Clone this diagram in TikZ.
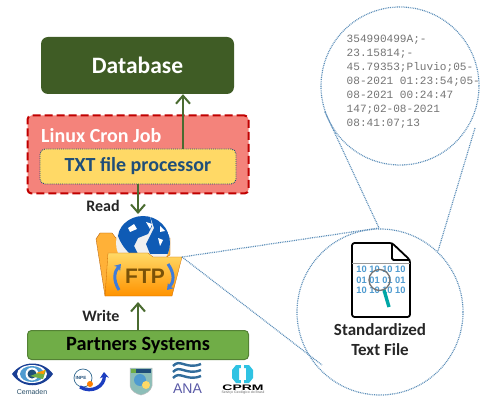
\documentclass[tikz,border=0pt]{standalone}
\usepackage{fontspec}
\setmainfont{Carlito}
\newfontfamily\monof{Liberation Mono}
\newfontfamily\sansf{Liberation Sans}
\usetikzlibrary{arrows.meta,calc}
\definecolor{dbgreen}{HTML}{3F5C25}
\definecolor{pgreen}{HTML}{70AD47}
\definecolor{cronred}{HTML}{F4837B}
\definecolor{dashred}{HTML}{C00000}
\definecolor{yel}{HTML}{FFD966}
\definecolor{navy}{HTML}{1F4E79}
\definecolor{dotblue}{HTML}{5B8DB8}
\definecolor{arrowg}{HTML}{4A6B30}
\definecolor{lightblue}{HTML}{4F9BD0}
\definecolor{globeb}{HTML}{0F5BB5}
\definecolor{ftpb}{HTML}{7A5208}
\tikzset{
 x=1pt,y=-1pt,
 dbbox/.style={fill=dbgreen,rounded corners=7pt,text=white,font=\bfseries\fontsize{23.5}{26}\selectfont,inner sep=0pt},
 cronbox/.style={fill=cronred,draw=dashred,line width=2pt,dash pattern=on 8pt off 4pt,rounded corners=4pt},
 procbox/.style={fill=yel,draw=navy,line width=.9pt,densely dotted,rounded corners=5pt,text=navy,font=\bfseries\fontsize{20}{22}\selectfont,inner sep=0pt},
 partbox/.style={fill=pgreen,draw=pgreen!75!black,line width=1pt,rounded corners=4pt,text=black,font=\bfseries\fontsize{20.3}{22}\selectfont,inner sep=0pt},
 flow/.style={draw=arrowg,line width=2.2pt,-{Straight Barb[length=8pt,width=14pt,line width=2pt]}},
 zoomline/.style={draw=dotblue,line width=1.2pt,dash pattern=on .9pt off .9pt},
 lab/.style={font=\bfseries\fontsize{16}{18}\selectfont,text=black!85,inner sep=0pt},
}
\begin{document}
\begin{tikzpicture}
\useasboundingbox (0,0) rectangle (482,398);
% boxes
\node[dbbox,minimum width=193pt,minimum height=57pt] (db) at (137.5,65.5) {Database};
\node[cronbox,minimum width=221pt,minimum height=78pt] (cron) at (138,154.5) {};
\node[font=\bfseries\fontsize{20}{22}\selectfont,text=white,inner sep=0pt,anchor=west] (cronlab) at (41,136) {Linux Cron Job};
\node[procbox,minimum width=196pt,minimum height=35pt] (proc) at (138,166.5) {TXT file processor};
\node[partbox,minimum width=221pt,minimum height=29pt] (part) at (138,345) {Partners Systems};
% folder
\coordinate (ftptop) at (138,214);
\coordinate (ftpbot) at (138,302);
\coordinate (ftpc) at (182,257);
\path[fill=yel!55!orange,draw=orange!70!black,line width=.3pt] (96,239) -- (100,233) -- (112,233) -- (116,238) -- (170,238) -- (170,255) -- (105,296) -- cycle;
\fill[black!6] (143,243) circle (27);
\begin{scope}
\clip (143,243) circle (27);
\fill[globeb] (118,236) .. controls (120,222) and (134,214) .. (150,216) -- (152,226) -- (148,234) -- (138,238) -- (134,246) -- (138,254) -- (130,254) .. controls (124,248) and (120,242) .. (118,236) -- cycle;
\fill[globeb] (150,216) .. controls (164,218) and (172,234) .. (172,254) -- (150,254) -- (146,244) -- (150,236) -- (154,228) -- cycle;
\fill[white] (128,228) -- (134,224) -- (137,229) -- (130,232) -- cycle;
\fill[white] (146,222) -- (152,224) -- (150,229) -- cycle;
\fill[white] (158,238) -- (163,240) -- (160,246) -- cycle;
\fill[white] (160,226) -- (165,231) -- (160,232) -- cycle;
\end{scope}
\path[top color=yel,bottom color=orange!85!yellow,draw=orange!80!black,line width=.3pt] (108,253) -- (148,253) -- (153,257) -- (182,257) -- (172,296) -- (105,296) -- cycle;
\node[font=\sansf\bfseries\fontsize{21}{22}\selectfont,text=ftpb,inner sep=0pt] (ftp) at (145,276) {FTP};
\draw[lightblue!80!blue,line width=3pt,-{Stealth[length=6pt,width=8pt]}] (119,290) .. controls (113,280) and (114,272) .. (121,264);
\draw[lightblue!80!blue,line width=3pt,-{Stealth[length=6pt,width=8pt]}] (168,264) .. controls (175,274) and (174,282) .. (167,290);
% flows
\coordinate (upstart) at (183,149);
\draw[flow] (upstart) -- (upstart|-db.south);
\draw[flow] (proc.south) -- (ftptop);
\draw[flow] (part.north) -- (ftpbot);
\node[lab] (read) at (103,206) {Read};
\node[lab] (write) at (101,316) {Write};
% circles
\node[circle,zoomline,minimum size=158pt,inner sep=0pt] (top) at (400,86) {};
\node[circle,zoomline,minimum size=166pt,inner sep=0pt] (bot) at (380,312) {};
\coordinate (ta) at (325,112);
\coordinate (tb) at (475,128);
\coordinate (ba) at (379,228);
\coordinate (bb) at (438,251);
\coordinate (bc) at (322,365);
\draw[zoomline] (ftpc) -- (ba);
\draw[zoomline] (ftpc) -- (bc);
\draw[zoomline] (ta) -- (ba);
\draw[zoomline] (tb) -- (bb);
\node[font=\monof\fontsize{11.1}{14}\selectfont,text=black!55,align=left,anchor=north west,inner sep=0pt] (data) at (346.5,35) {354990499A;-\\23.15814;-\\45.79353;Pluvio;05-\\08-2021 01:23:54;05-\\08-2021 00:24:47\\147;02-08-2021\\08:41:07;13};
% file icon
\draw[line width=1.8pt,line join=round,rounded corners=2.5pt,fill=white] (352,243) -- (392,243) -- (410,260) -- (410,317) -- (352,317) -- cycle;
\draw[line width=1.8pt,line join=round,rounded corners=1.5pt] (392,243) -- (392,260) -- (410,260);
\draw[black!40,line width=.5pt] (352,263) -- (410,263);
\node[font=\sansf\bfseries\fontsize{9.3}{10.5}\selectfont,text=lightblue,align=center,inner sep=0pt] (bits) at (381,280) {10 10 10 10\\01 01 01 01\\10 10 10 10};
\draw[teal!70!cyan,line width=3.4pt] (384,290) -- (389,307);
\draw[black!55,line width=1.3pt] (379.5,280) circle (10.5);
\node[font=\bfseries\fontsize{17}{20}\selectfont,text=black!85,align=center,inner sep=0pt] (stdlab) at (380,340) {Standardized\\Text File};
% logos
\path[fill=navy!80!blue] (12,374) .. controls (22,360) and (43,360) .. (53,374) .. controls (43,389) and (22,389) .. (12,374) -- cycle;
\fill[white] (32,374) ellipse (15 and 9);
\fill[lightblue] (32,374) ellipse (12 and 8);
\fill[white] (32,374) circle (6.5);
\fill[navy] (32,374) circle (4.5);
\fill[pgreen] (30,376) -- (46,370) -- (43,379) -- cycle;
\fill[orange!80!yellow] (36,373) -- (45,370) -- (44,374) -- cycle;
\node[font=\sansf\fontsize{7}{8}\selectfont,text=black!50!lightblue,inner sep=0pt] (cem) at (32,392) {Cemaden};
\draw[lightblue!70!black,line width=.7pt] (83,378) circle (9);
\draw[navy!50!blue!80!lightblue,line width=3.4pt,-{Stealth[length=6pt,width=9pt]}] (80,387) .. controls (92,394) and (105,386) .. (104,372);
\fill[orange] (90,384) circle (3);
\node[font=\sansf\bfseries\fontsize{4.5}{5}\selectfont,text=navy,inner sep=0pt] (inpe) at (81,378) {INPE};
\path[fill=lightblue!60!pgreen!70!white,draw=black!25,line width=.5pt] (130,368) -- (152,368) -- (152,386) .. controls (151,391) and (146,394) .. (141,395) .. controls (136,394) and (131,391) .. (130,386) -- cycle;
\fill[navy] (136,369) rectangle (151,373);
\fill[pgreen] (131,369) rectangle (136,373);
\fill[lightblue] (140,380) circle (6);
\fill[yel] (146,385) circle (4);
\foreach \dy in {0,6,12}{\draw[navy!60!lightblue,line width=2.4pt] (173,{366+\dy}) .. controls (180,{358+\dy}) and (186,{370+\dy}) .. (201,{364+\dy});}
\node[font=\sansf\fontsize{14}{15}\selectfont,text=blue!30!gray,inner sep=0pt] (ana) at (187.5,389) {ANA};
\fill[lightblue!60!cyan,even odd rule] (236,365) -- (249,365) -- (253,370) -- (253,378) -- (249,383) -- (236,383) -- (232,378) -- (232,370) -- cycle (239,368) rectangle (246,380);
\fill[white] (241,364) rectangle (244,369);
\fill[white] (241,379) rectangle (244,384);
\node[font=\sansf\bfseries\fontsize{8}{9}\selectfont,text=black,inner sep=0pt,xscale=1.75] (cprm) at (243,387.3) {CPRM};
\node[font=\sansf\fontsize{3.5}{4}\selectfont,text=black!60,inner sep=0pt] (cprmsub) at (243,392.5) {Serviço Geológico do Brasil};
\end{tikzpicture}
\end{document}
